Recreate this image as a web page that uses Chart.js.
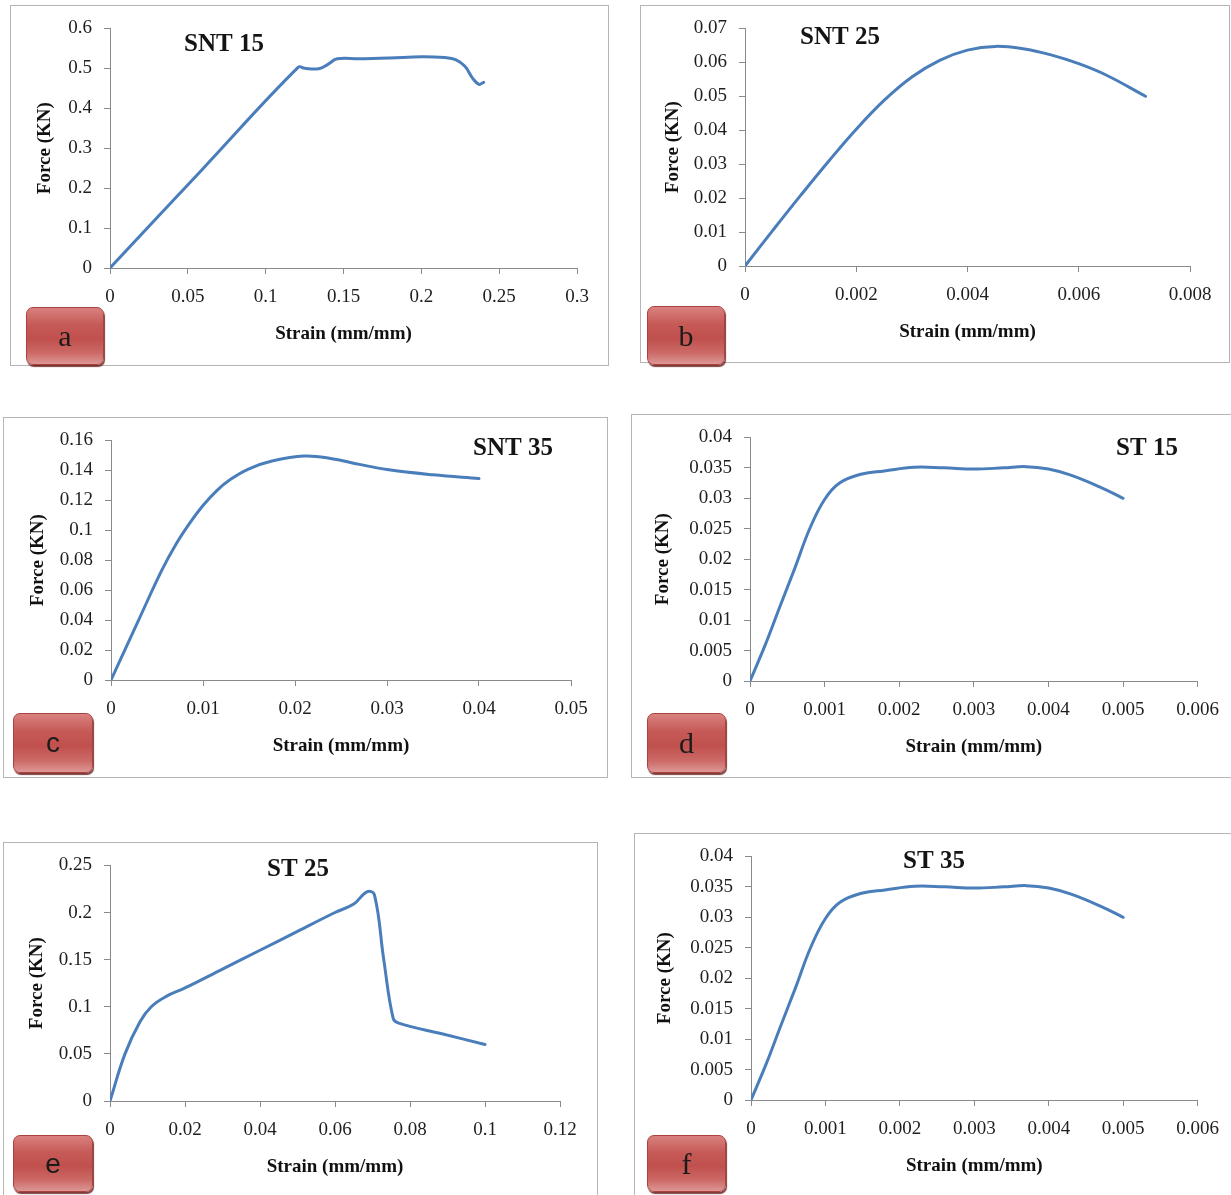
<!DOCTYPE html>
<html>
<head>
<meta charset="utf-8">
<title>Force–strain curves</title>
<script src="https://cdn.jsdelivr.net/npm/chart.js@4.4.1/dist/chart.umd.min.js"></script>
<style>
  html, body { margin: 0; padding: 0; background: #fff; }
  #page { position: relative; width: 1231px; height: 1195px; overflow: hidden; background: #fff; }
  .frame { position: absolute; box-sizing: border-box; border: 1px solid #b5b5b5; }
  canvas { position: absolute; }
  .tag {
    position: absolute; box-sizing: border-box;
    border: 1px solid #a9423f; border-radius: 7px;
    background: linear-gradient(to bottom, #d9817f 0%, #c65a57 30%, #c0504d 55%, #cc6966 80%, #dd9795 100%);
    box-shadow: 1px 2px 1px rgba(105, 28, 26, 0.85);
    display: flex; align-items: center; justify-content: center;
    color: #1b1b1b; font-size: 30px; line-height: 1;
  }
  .serif { font-family: "Liberation Serif", "Times New Roman", serif; }
  .sans { font-family: "Liberation Sans", Arial, sans-serif; font-size: 28px; }
</style>
</head>
<body>
<div id="page"></div>
<script>
// ---- SNT 15 ----
const snt15Strain = [0, 0.06, 0.121, 0.125, 0.134, 0.140, 0.146, 0.16, 0.18, 0.20, 0.215, 0.222, 0.228, 0.233, 0.237, 0.240];
const snt15Force  = [0, 0.25, 0.503, 0.500, 0.499, 0.510, 0.524, 0.524, 0.526, 0.529, 0.527, 0.522, 0.505, 0.475, 0.460, 0.465];
const snt15XTicks = ['0', '0.05', '0.1', '0.15', '0.2', '0.25', '0.3'];
const snt15YTicks = ['0', '0.1', '0.2', '0.3', '0.4', '0.5', '0.6'];

// ---- SNT 25 ----
const snt25Strain = [0, 0.0005, 0.001, 0.0015, 0.002, 0.0025, 0.003, 0.0035, 0.004, 0.0045, 0.005, 0.0055, 0.006, 0.0065, 0.0072];
const snt25Force  = [0, 0.0105, 0.0208, 0.0308, 0.0403, 0.0488, 0.0557, 0.0606, 0.0636, 0.0647, 0.0640, 0.0622, 0.0596, 0.0562, 0.0500];
const snt25XTicks = ['0', '0.002', '0.004', '0.006', '0.008'];
const snt25YTicks = ['0', '0.01', '0.02', '0.03', '0.04', '0.05', '0.06', '0.07'];

// ---- SNT 35 ----
const snt35Strain = [0, 0.003, 0.0055, 0.007, 0.0085, 0.010, 0.0115, 0.013, 0.015, 0.0175, 0.021, 0.024, 0.027, 0.030, 0.035, 0.040];
const snt35Force  = [0, 0.040, 0.073, 0.090, 0.1042, 0.1165, 0.1265, 0.1340, 0.1410, 0.1462, 0.1495, 0.1478, 0.1440, 0.1405, 0.1370, 0.1345];
const snt35XTicks = ['0', '0.01', '0.02', '0.03', '0.04', '0.05'];
const snt35YTicks = ['0', '0.02', '0.04', '0.06', '0.08', '0.1', '0.12', '0.14', '0.16'];

// ---- ST 15 ----
const st15Strain = [0, 0.0002, 0.0004, 0.0006, 0.0008, 0.001, 0.0012, 0.0015, 0.0018, 0.0022, 0.0026, 0.003, 0.0034, 0.0037, 0.004, 0.0043, 0.0047, 0.005];
const st15Force  = [0, 0.0058, 0.0122, 0.0185, 0.025, 0.0298, 0.0325, 0.034, 0.0345, 0.0351, 0.035, 0.0348, 0.035, 0.0352, 0.0348, 0.0338, 0.0318, 0.030];
const st15XTicks = ['0', '0.001', '0.002', '0.003', '0.004', '0.005', '0.006'];
const st15YTicks = ['0', '0.005', '0.01', '0.015', '0.02', '0.025', '0.03', '0.035', '0.04'];

// ---- ST 25 ----
const st25Strain = [0, 0.004, 0.008, 0.011, 0.015, 0.02, 0.03, 0.04, 0.05, 0.06, 0.065, 0.0685, 0.0705, 0.073, 0.0755, 0.077, 0.0885, 0.1];
const st25Force  = [0, 0.050, 0.084, 0.100, 0.111, 0.120, 0.140, 0.160, 0.180, 0.200, 0.209, 0.222, 0.219, 0.150, 0.088, 0.0826, 0.0713, 0.060];
const st25XTicks = ['0', '0.02', '0.04', '0.06', '0.08', '0.1', '0.12'];
const st25YTicks = ['0', '0.05', '0.1', '0.15', '0.2', '0.25'];

// ---- ST 35 ----
const st35Strain = [0, 0.0002, 0.0004, 0.0006, 0.0008, 0.001, 0.0012, 0.0015, 0.0018, 0.0022, 0.0026, 0.003, 0.0034, 0.0037, 0.004, 0.0043, 0.0047, 0.005];
const st35Force  = [0, 0.0058, 0.0122, 0.0185, 0.025, 0.0298, 0.0325, 0.034, 0.0345, 0.0351, 0.035, 0.0348, 0.035, 0.0352, 0.0348, 0.0338, 0.0318, 0.030];
const st35XTicks = ['0', '0.001', '0.002', '0.003', '0.004', '0.005', '0.006'];
const st35YTicks = ['0', '0.005', '0.01', '0.015', '0.02', '0.025', '0.03', '0.035', '0.04'];

const xAxisTitle = 'Strain (mm/mm)';
const yAxisTitle = 'Force (KN)';

// Page layout: frame box, plot area box [left, top, right, bottom], heading centre, y-title centre x, letter tag box
const panels = [
  { tag: 'a', tagFont: 'serif', title: 'SNT 15', strain: snt15Strain, force: snt15Force, xTicks: snt15XTicks, yTicks: snt15YTicks,
    frame: [10, 5, 609, 366], area: [110, 25, 577, 268], head: [224, 45], yTitleX: 45, tagBox: [26, 307, 104, 365] },
  { tag: 'b', tagFont: 'serif', title: 'SNT 25', strain: snt25Strain, force: snt25Force, xTicks: snt25XTicks, yTicks: snt25YTicks,
    frame: [640, 5, 1230, 363], area: [745, 24, 1190, 266], head: [840, 38], yTitleX: 673, tagBox: [647, 306, 725, 365] },
  { tag: 'c', tagFont: 'sans', title: 'SNT 35', strain: snt35Strain, force: snt35Force, xTicks: snt35XTicks, yTicks: snt35YTicks,
    frame: [3, 417, 608, 778], area: [111, 436, 571, 680], head: [513, 449], yTitleX: 38, tagBox: [13, 713, 93, 773] },
  { tag: 'd', tagFont: 'serif', title: 'ST 15', strain: st15Strain, force: st15Force, xTicks: st15XTicks, yTicks: st15YTicks,
    frame: [631, 414, 1240, 778], area: [750, 433, 1198, 681], head: [1147, 449], yTitleX: 663, tagBox: [647, 713, 726, 773] },
  { tag: 'e', tagFont: 'sans', title: 'ST 25', strain: st25Strain, force: st25Force, xTicks: st25XTicks, yTicks: st25YTicks,
    frame: [3, 842, 598, 1210], area: [110, 861, 560, 1101], head: [298, 870], yTitleX: 37, tagBox: [13, 1135, 93, 1192] },
  { tag: 'f', tagFont: 'serif', title: 'ST 35', strain: st35Strain, force: st35Force, xTicks: st35XTicks, yTicks: st35YTicks,
    frame: [634, 833, 1240, 1210], area: [751, 852, 1198, 1100], head: [934, 862], yTitleX: 665, tagBox: [647, 1135, 726, 1192] }
];

const PAGE_W = 1231, PAGE_H = 1195;
const SERIF = '"Liberation Serif", "Times New Roman", serif';
const TICK_SIZE = 19, AXIS_TITLE_SIZE = 19, LINE_H = 1.2;
const axisGray = '#8a8a8a';

// Heading drawn inside the plot ("SNT 15", ...)
const panelHeading = {
  id: 'panelHeading',
  afterDraw(chart, args, opts) {
    const ctx = chart.ctx;
    ctx.save();
    ctx.font = 'bold 25px ' + SERIF;
    ctx.fillStyle = '#141414';
    ctx.textAlign = 'center';
    ctx.textBaseline = 'middle';
    ctx.fillText(opts.text, opts.x, opts.y);
    ctx.restore();
  }
};

const page = document.getElementById('page');

panels.forEach(p => {
  const [fl, ft, fr, fb] = p.frame;
  const [al, at, ar, ab] = p.area;

  const frame = document.createElement('div');
  frame.className = 'frame';
  Object.assign(frame.style, { left: fl + 'px', top: ft + 'px', width: (fr - fl) + 'px', height: (fb - ft) + 'px' });
  page.appendChild(frame);

  const cw = Math.min(fr, PAGE_W) - fl;
  const ch = Math.min(fb, PAGE_H) - ft;
  const canvas = document.createElement('canvas');
  canvas.width = cw; canvas.height = ch;
  Object.assign(canvas.style, { left: fl + 'px', top: ft + 'px', width: cw + 'px', height: ch + 'px' });
  page.appendChild(canvas);

  const xVals = p.xTicks.map(Number);
  const yVals = p.yTicks.map(Number);
  const xScaleH = (ft + ch) - ab;
  const yScaleW = al - fl;
  const lh = AXIS_TITLE_SIZE * LINE_H;

  new Chart(canvas, {
    type: 'line',
    data: {
      datasets: [{
        data: p.strain.map((s, i) => ({ x: s, y: p.force[i] })),
        borderColor: '#4a7ebb',
        borderWidth: 3,
        pointRadius: 0,
        fill: false,
        tension: 0.4,
        borderCapStyle: 'round',
        borderJoinStyle: 'round'
      }]
    },
    options: {
      responsive: false,
      animation: false,
      events: [],
      layout: { padding: { left: 0, top: at - ft, right: (fl + cw) - ar, bottom: 0 } },
      plugins: {
        legend: { display: false },
        tooltip: { enabled: false },
        panelHeading: { text: p.title, x: p.head[0] - fl, y: p.head[1] - ft }
      },
      scales: {
        x: {
          type: 'linear',
          min: xVals[0],
          max: xVals[xVals.length - 1],
          afterBuildTicks: s => { s.ticks = xVals.map(v => ({ value: v })); },
          afterFit: s => { s.height = xScaleH; },
          grid: { drawOnChartArea: false, drawTicks: true, tickLength: 6, color: axisGray, lineWidth: 1 },
          border: { display: true, color: axisGray, width: 1 },
          ticks: {
            autoSkip: false, maxRotation: 0, padding: 12,
            color: '#1e1e1e', font: { family: SERIF, size: TICK_SIZE, lineHeight: LINE_H },
            callback: (v, i) => p.xTicks[i]
          },
          title: {
            display: true, text: xAxisTitle, color: '#111',
            font: { family: SERIF, size: AXIS_TITLE_SIZE, weight: 'bold', lineHeight: LINE_H },
            padding: { top: 0, bottom: xScaleH - 66 - lh / 2 }
          }
        },
        y: {
          type: 'linear',
          min: yVals[0],
          max: yVals[yVals.length - 1],
          afterBuildTicks: s => { s.ticks = yVals.map(v => ({ value: v })); },
          afterFit: s => { s.width = yScaleW; },
          grid: { drawOnChartArea: false, drawTicks: true, tickLength: 6, color: axisGray, lineWidth: 1 },
          border: { display: true, color: axisGray, width: 1 },
          ticks: {
            autoSkip: false, padding: 12,
            color: '#1e1e1e', font: { family: SERIF, size: TICK_SIZE, lineHeight: LINE_H },
            callback: (v, i) => p.yTicks[i]
          },
          title: {
            display: true, text: yAxisTitle, color: '#111',
            font: { family: SERIF, size: AXIS_TITLE_SIZE, weight: 'bold', lineHeight: LINE_H },
            padding: { top: (p.yTitleX - fl) - lh / 2, bottom: 0 }
          }
        }
      }
    },
    plugins: [panelHeading]
  });

  const [tl, tt, tr, tb] = p.tagBox;
  const tag = document.createElement('div');
  tag.className = 'tag ' + p.tagFont;
  tag.textContent = p.tag;
  Object.assign(tag.style, { left: tl + 'px', top: tt + 'px', width: (tr - tl) + 'px', height: (tb - tt) + 'px' });
  page.appendChild(tag);
});
</script>
</body>
</html>
